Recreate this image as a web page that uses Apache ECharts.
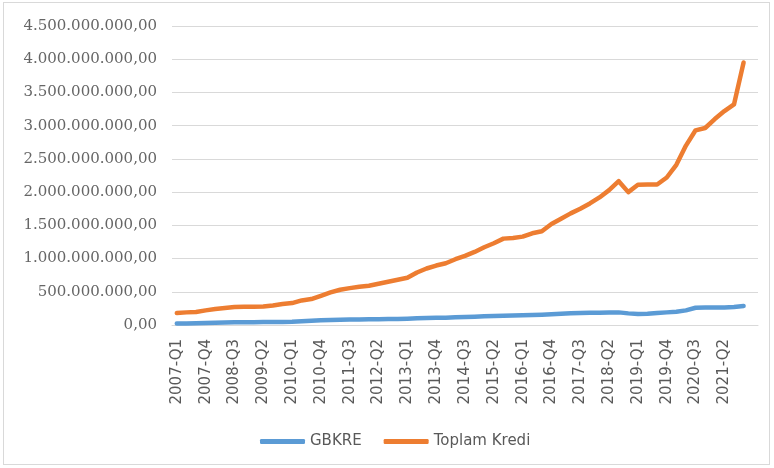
<!DOCTYPE html>
<html>
<head>
<meta charset="utf-8">
<script src="https://cdn.jsdelivr.net/npm/echarts@6/dist/echarts.min.js"></script>
<style>
html, body { margin: 0; padding: 0; background: #fff; }
.frame { position: absolute; left: 3px; top: 2px; width: 767px; height: 463px; border: 1px solid #d9d9d9; box-sizing: border-box; }
.charts { position: absolute; left: 0; top: 0; width: 774px; height: 468px; }
</style>
</head>
<body>
<div class="frame"></div>
<div class="charts" id="charts"></div>
<script>
// quarters 2007-Q1 .. 2021-Q4, plus one empty slot at the end (as in the source sheet)
const quarters = [
  '2007-Q1','2007-Q2','2007-Q3','2007-Q4','2008-Q1','2008-Q2','2008-Q3','2008-Q4',
  '2009-Q1','2009-Q2','2009-Q3','2009-Q4','2010-Q1','2010-Q2','2010-Q3','2010-Q4',
  '2011-Q1','2011-Q2','2011-Q3','2011-Q4','2012-Q1','2012-Q2','2012-Q3','2012-Q4',
  '2013-Q1','2013-Q2','2013-Q3','2013-Q4','2014-Q1','2014-Q2','2014-Q3','2014-Q4',
  '2015-Q1','2015-Q2','2015-Q3','2015-Q4','2016-Q1','2016-Q2','2016-Q3','2016-Q4',
  '2017-Q1','2017-Q2','2017-Q3','2017-Q4','2018-Q1','2018-Q2','2018-Q3','2018-Q4',
  '2019-Q1','2019-Q2','2019-Q3','2019-Q4','2020-Q1','2020-Q2','2020-Q3','2020-Q4',
  '2021-Q1','2021-Q2','2021-Q3','2021-Q4',''
]

// values in millions
const gbkre = [
  22, 24, 26, 30, 35, 38, 40, 42, 43, 44, 45, 47,
  50, 58, 65, 70, 75, 80, 82, 84, 85, 87, 90, 92,
  95, 100, 105, 108, 110, 115, 120, 125, 130, 135, 140, 142,
  145, 150, 155, 160, 168, 175, 180, 183, 186, 188, 190, 175,
  165, 168, 180, 190, 200, 220, 260, 262, 263, 265, 270, 285
]
const toplamKredi = [
  180, 190, 195, 220, 240, 255, 270, 275, 275, 280, 295, 315,
  330, 370, 390, 440, 490, 530, 555, 575, 590, 620, 650, 680,
  710, 790, 850, 895, 930, 990, 1040, 1100, 1170, 1230, 1300, 1310,
  1330, 1380, 1410, 1520, 1600, 1680, 1750, 1830, 1920, 2030, 2165, 2000,
  2110, 2115, 2115, 2220, 2410, 2700, 2930, 2965, 3100, 3220, 3320, 3950
]

const yTicks = { min: 0, max: 4500, step: 500 }

function trNumber(v) {
  const n = Math.round(v * 1e6)
  return String(n).replace(/\B(?=(\d{3})+(?!\d))/g, '.') + ',00'
}

const myChart = echarts.init(document.getElementById('charts'))
myChart.setOption({
  animation: false,
  grid: {
    left: 172,
    top: 26,
    width: 586,
    height: 299
  },
  legend: {
    data: ['GBKRE', 'Toplam Kredi'],
    left: 255,
    top: 429,
    icon: 'roundRect',
    itemWidth: 45,
    itemHeight: 5,
    itemGap: 22,
    textStyle: {
      color: '#595959',
      fontFamily: 'DejaVu Sans',
      fontSize: 15
    }
  },
  xAxis: {
    type: 'category',
    data: quarters,
    boundaryGap: true,
    axisLine: { lineStyle: { color: '#d9d9d9', width: 1 } },
    axisTick: { show: false },
    axisLabel: {
      interval: 2,
      rotate: 90,
      margin: 14,
      color: '#595959',
      fontFamily: 'DejaVu Sans',
      fontSize: 15
    }
  },
  yAxis: {
    type: 'value',
    min: yTicks.min,
    max: yTicks.max,
    interval: yTicks.step,
    axisLine: { show: false },
    axisTick: { show: false },
    splitLine: { lineStyle: { color: '#d9d9d9', width: 1 } },
    axisLabel: {
      margin: 15,
      color: '#666666',
      fontFamily: 'DejaVu Serif',
      fontSize: 15,
      formatter: trNumber
    }
  },
  series: [
    {
      name: 'GBKRE',
      type: 'line',
      data: gbkre,
      symbol: 'none',
      itemStyle: { color: '#5b9bd5' },
      lineStyle: { color: '#5b9bd5', width: 4.5, cap: 'round', join: 'round' }
    },
    {
      name: 'Toplam Kredi',
      type: 'line',
      data: toplamKredi,
      symbol: 'none',
      itemStyle: { color: '#ed7d31' },
      lineStyle: { color: '#ed7d31', width: 4.5, cap: 'round', join: 'round' }
    }
  ]
})
</script>
</body>
</html>
